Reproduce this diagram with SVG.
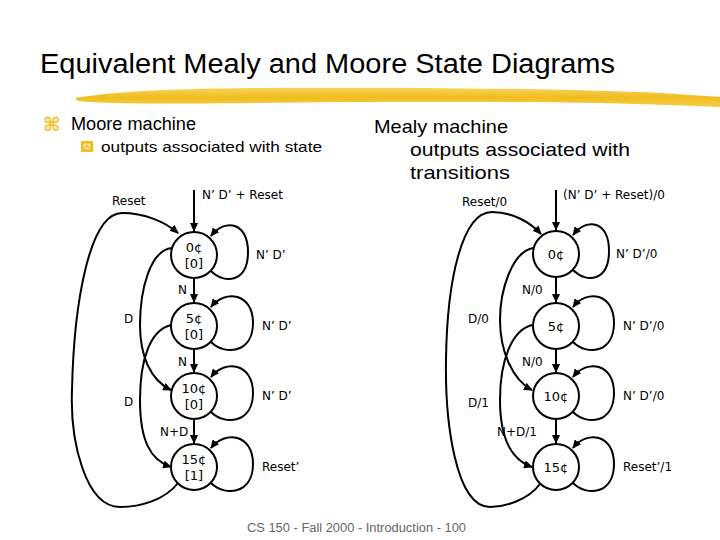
<svg xmlns="http://www.w3.org/2000/svg" width="720" height="540" viewBox="0 0 720 540">
<style>
.lbl{font-family:"DejaVu Sans","Liberation Sans",sans-serif;font-size:12px;fill:#000}
.st{font-family:"DejaVu Sans","Liberation Sans",sans-serif;font-size:13px;fill:#000;text-anchor:middle}
.hd{font-family:"Liberation Sans","DejaVu Sans",sans-serif;fill:#000}
.c{fill:#fff;stroke:#000;stroke-width:2}
.e{fill:none;stroke:#000;stroke-width:2;marker-end:url(#ah)}
</style>
<defs>
<marker id="ah" markerUnits="userSpaceOnUse" markerWidth="9" markerHeight="8" refX="8" refY="4" orient="auto">
<path d="M0,0 L9,4 L0,8 z" fill="#000"/>
</marker>
<linearGradient id="gold" x1="0" y1="0" x2="0" y2="1">
<stop offset="0" stop-color="#f7d560"/>
<stop offset="0.5" stop-color="#f0bd1e"/>
<stop offset="1" stop-color="#f5cc48"/>
</linearGradient>
</defs>
<rect width="720" height="540" fill="#fff"/>
<text class="hd" x="40" y="73" font-size="27" textLength="575" lengthAdjust="spacingAndGlyphs">Equivalent Mealy and Moore State Diagrams</text>
<path d="M75,98 C110,92 160,89 250,88 C380,87 520,88 640,92 C680,94 705,96 720,97 L720,107 C690,106 650,104 600,103 C480,101 350,102 250,103 C170,104 110,104 78,101 Z" fill="url(#gold)"/>
<text x="43" y="131" font-family="DejaVu Sans,sans-serif" font-size="19" font-weight="bold" fill="#f2c21c">⌘</text>
<text class="hd" x="71" y="130" font-size="18" textLength="125" lengthAdjust="spacingAndGlyphs">Moore machine</text>
<g id="bullet2">
<rect x="81" y="141" width="12" height="11" fill="#f2c21c"/>
<rect x="83" y="143" width="8" height="7" fill="#fbe48a" stroke="#d9a800" stroke-width="0.6"/>
<polyline points="84.5,148.5 87,145.5 89.5,148.5" fill="none" stroke="#c89600" stroke-width="0.8"/>
</g>
<text class="hd" x="101" y="152" font-size="15" textLength="221" lengthAdjust="spacingAndGlyphs">outputs associated with state</text>
<text class="hd" x="374" y="133" font-size="19" textLength="134" lengthAdjust="spacingAndGlyphs">Mealy machine</text>
<text class="hd" x="410" y="156" font-size="19" textLength="220" lengthAdjust="spacingAndGlyphs">outputs associated with</text>
<text class="hd" x="410" y="179" font-size="19" textLength="100" lengthAdjust="spacingAndGlyphs">transitions</text>

<g id="connectors">
<!-- Moore -->
<path class="e" d="M194,190 L194,231"/>
<path class="e" d="M194,278 L194,302"/>
<path class="e" d="M194,349 L194,372"/>
<path class="e" d="M194,419 L194,443"/>
<path class="e" d="M178,483 C165,500 140,507 120,507 C85,507 70,440 72,390 C74,300 90,213 122,213 C145,213 165,222 178,233"/>
<path class="e" d="M172,248 C150,250 140,290 140,325 C140,355 150,380 171,390"/>
<path class="e" d="M171,325 C150,330 140,360 140,400 C140,440 150,460 171,467"/>
<path class="e" d="M211,271 C225,285 248,282 248,252 C248,222 225,218 211,236"/>
<path class="e" d="M211,342 C225,356 253,353 253,323 C253,293 225,289 211,307"/>
<path class="e" d="M211,412 C225,426 253,423 253,393 C253,363 225,359 211,377"/>
<path class="e" d="M211,483 C225,497 253,494 253,464 C253,434 225,430 211,448"/>
<!-- Mealy -->
<path class="e" d="M556,190 L556,230"/>
<path class="e" d="M556,277 L556,302"/>
<path class="e" d="M556,349 L556,372"/>
<path class="e" d="M556,419 L556,443"/>
<path class="e" d="M540,484 C528,500 505,507 490,507 C455,507 445,420 446,360 C447,280 462,212 492,212 C512,212 530,222 541,234"/>
<path class="e" d="M533,248 C512,252 500,290 500,320 C500,350 512,380 532,390"/>
<path class="e" d="M532,325 C512,330 500,360 500,400 C500,440 512,460 532,467"/>
<path class="e" d="M573,270 C587,284 609,281 609,251 C609,221 587,217 573,235"/>
<path class="e" d="M573,342 C587,356 614,353 614,323 C614,293 587,289 573,307"/>
<path class="e" d="M573,412 C587,426 614,423 614,393 C614,363 587,359 573,377"/>
<path class="e" d="M573,483 C587,497 614,494 614,464 C614,434 587,430 573,448"/>
</g>

<g id="moore-s0"><circle class="c" cx="194" cy="255" r="23"/><text class="st" x="194" y="252">0¢</text><text class="st" x="194" y="268">[0]</text></g>
<g id="moore-s5"><circle class="c" cx="194" cy="326" r="23"/><text class="st" x="194" y="323">5¢</text><text class="st" x="194" y="339">[0]</text></g>
<g id="moore-s10"><circle class="c" cx="194" cy="396" r="23"/><text class="st" x="194" y="393">10¢</text><text class="st" x="194" y="409">[0]</text></g>
<g id="moore-s15"><circle class="c" cx="194" cy="467" r="23"/><text class="st" x="194" y="464">15¢</text><text class="st" x="194" y="480">[1]</text></g>

<g id="mealy-s0"><circle class="c" cx="556" cy="254" r="23"/><text class="st" x="556" y="258.5">0¢</text></g>
<g id="mealy-s5"><circle class="c" cx="556" cy="326" r="23"/><text class="st" x="556" y="330.5">5¢</text></g>
<g id="mealy-s10"><circle class="c" cx="556" cy="396" r="23"/><text class="st" x="556" y="400.5">10¢</text></g>
<g id="mealy-s15"><circle class="c" cx="556" cy="467" r="23"/><text class="st" x="556" y="471.5">15¢</text></g>

<g id="labels">
<text class="lbl" x="202" y="199">N’ D’ + Reset</text>
<text class="lbl" x="112" y="205">Reset</text>
<text class="lbl" x="256" y="259">N’ D’</text>
<text class="lbl" x="178" y="294">N</text>
<text class="lbl" x="124" y="323">D</text>
<text class="lbl" x="262" y="330">N’ D’</text>
<text class="lbl" x="178" y="366">N</text>
<text class="lbl" x="124" y="406">D</text>
<text class="lbl" x="262" y="400">N’ D’</text>
<text class="lbl" x="160" y="436">N+D</text>
<text class="lbl" x="262" y="471">Reset’</text>

<text class="lbl" x="563" y="199">(N’ D’ + Reset)/0</text>
<text class="lbl" x="462" y="206">Reset/0</text>
<text class="lbl" x="616" y="258">N’ D’/0</text>
<text class="lbl" x="522" y="294">N/0</text>
<text class="lbl" x="468" y="323">D/0</text>
<text class="lbl" x="623" y="330">N’ D’/0</text>
<text class="lbl" x="522" y="366">N/0</text>
<text class="lbl" x="468" y="407">D/1</text>
<text class="lbl" x="623" y="400">N’ D’/0</text>
<text class="lbl" x="497" y="436">N+D/1</text>
<text class="lbl" x="623" y="471">Reset’/1</text>
</g>
<text x="247" y="532" font-family="Liberation Sans,sans-serif" font-size="12" fill="#666" textLength="219" lengthAdjust="spacingAndGlyphs">CS 150 - Fall 2000 - Introduction - 100</text>
</svg>
